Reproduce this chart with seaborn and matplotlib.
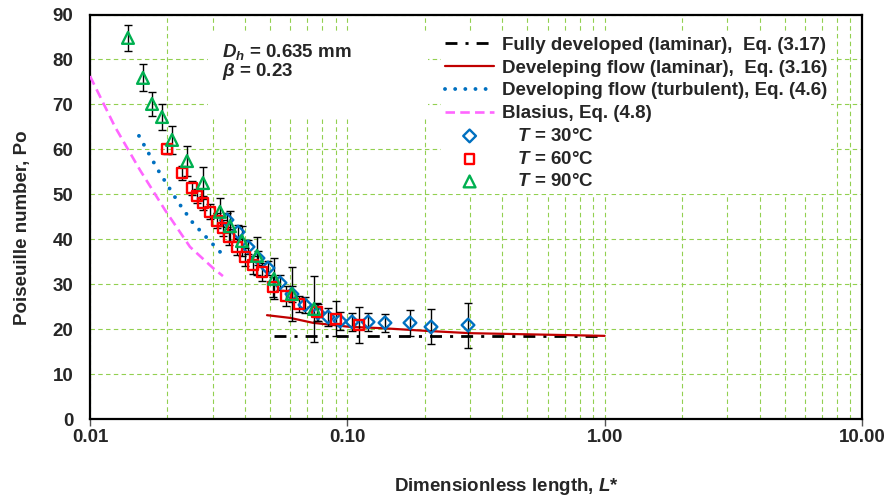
import numpy as np
import pandas as pd
import matplotlib
matplotlib.use("Agg")
import matplotlib.pyplot as plt
from matplotlib.ticker import FixedLocator, LogLocator, NullFormatter
from matplotlib.patches import Rectangle
import seaborn as sns

# ---------------- data ----------------
# Fully developed (laminar)
L_fd = [0.052, 1.0]
Po_fd = [18.4, 18.4]
# Developing flow (laminar)
L_lam = [0.04875, 0.05989, 0.07357, 0.1024, 0.1376, 0.2040, 0.2999, 1.0]
Po_lam = [23.1, 22.5, 21.4, 20.5, 20.2, 19.6, 19.1, 18.5]
# Developing flow (turbulent)
L_turb = [0.01550, 0.01838, 0.02198, 0.02514, 0.02901, 0.03286]
Po_turb = [63.0, 55.4, 48.3, 43.6, 39.8, 36.5]
# Blasius
L_bla = [0.01, 0.01251, 0.01564, 0.01957, 0.02447, 0.03006, 0.03286]
Po_bla = [76.3, 65.0, 55.4, 46.5, 38.3, 33.6, 31.8]

# T = 30 C
L_t30 = [0.03407, 0.03761, 0.04113, 0.04497, 0.04917, 0.05475, 0.06095, 0.06849,
         0.07695, 0.08414, 0.09368, 0.1043, 0.1204, 0.1401, 0.1752, 0.2115, 0.2945]
Po_t30 = [44.3, 41.6, 38.3, 35.8, 33.6, 30.3, 27.8, 25.4, 23.6, 22.7, 21.8, 21.6,
          21.6, 21.4, 21.4, 20.5, 20.9]
err_t30 = [1.5, 1.5, 1.5, 1.5, 1.6, 1.7, 1.8, 1.8, 1.9, 2.0, 2.0, 2.0, 2.0, 2.0,
           2.9, 3.9, 5.0]
# T = 60 C
L_t60 = [0.01992, 0.02278, 0.02492, 0.02606, 0.02750, 0.02927, 0.03115, 0.03286,
         0.03469, 0.03727, 0.04005, 0.04302, 0.04661, 0.05144, 0.05779, 0.06490,
         0.07623, 0.09039, 0.1110]
Po_t60 = [60.1, 54.7, 51.4, 49.6, 48.1, 46.1, 44.1, 42.5, 40.5, 38.3, 36.0, 34.3,
          32.7, 29.4, 27.4, 25.6, 23.8, 22.3, 20.9]
err_t60 = [1.2, 1.6, 1.6, 1.6, 1.6, 1.7, 1.7, 1.8, 1.8, 1.9, 2.0, 2.0, 2.1, 2.2,
           2.3, 1.7, 2.0, 3.9, 4.0]
# T = 90 C
L_t90 = [0.01405, 0.01607, 0.01742, 0.01905, 0.02084, 0.02383, 0.02750, 0.03200,
         0.03500, 0.03896, 0.04457, 0.05190, 0.06095, 0.07425]
Po_t90 = [84.8, 75.9, 70.1, 67.2, 62.1, 57.4, 52.5, 46.1, 42.9, 39.6, 36.3, 31.2,
          27.8, 24.5]
err_t90 = [2.9, 3.0, 2.7, 3.0, 3.2, 3.3, 3.5, 3.1, 3.3, 3.3, 4.2, 4.6, 6.0, 7.4]

x_ticks = [0.01, 0.1, 1.0, 10.0]
x_ticklabels = ["0.01", "0.10", "1.00", "10.00"]
y_ticks = [0, 10, 20, 30, 40, 50, 60, 70, 80, 90]

# ---------------- style ----------------
sns.set_style("white")
plt.rcParams["font.family"] = ["Liberation Sans", "DejaVu Sans"]
plt.rcParams["font.weight"] = "bold"
plt.rcParams["mathtext.fontset"] = "custom"
plt.rcParams["mathtext.it"] = "Liberation Sans:italic:bold"
plt.rcParams["mathtext.rm"] = "Liberation Sans:bold"
plt.rcParams["mathtext.bf"] = "Liberation Sans:bold"
FS = 13.5

fig = plt.figure(figsize=(8.9, 4.99), dpi=100)
ax = fig.add_axes([0.1011, 0.1603, 0.8674, 0.8106])

grid_col = "#92D050"

# curves
sns.lineplot(x=L_fd, y=Po_fd, ax=ax, color="black", lw=2.0,
             linestyle=(0, (4.3, 2.9, 1.1, 2.9)),
             label="Fully developed (laminar),  Eq. (3.17)", zorder=3)
sns.lineplot(x=L_lam, y=Po_lam, ax=ax, color="#C00000", lw=1.6,
             label="Develeping flow (laminar),  Eq. (3.16)", zorder=3)
sns.lineplot(x=L_turb, y=Po_turb, ax=ax, color="#0070C0", lw=2.8,
             linestyle=(0, (0.01, 2.6)), dash_capstyle="round",
             label="Developing flow (turbulent), Eq. (4.6)", zorder=3)
sns.lineplot(x=L_bla, y=Po_bla, ax=ax, color="#FF66FF", lw=1.9,
             linestyle=(0, (3.6, 2.0)),
             label="Blasius, Eq. (4.8)", zorder=3)

# error bars
for L, P, E in [(L_t30, Po_t30, err_t30), (L_t60, Po_t60, err_t60), (L_t90, Po_t90, err_t90)]:
    ax.errorbar(L, P, yerr=E, fmt="none", ecolor="black", elinewidth=1.0,
                capsize=3, capthick=1.0, zorder=3.5)

# markers
sns.scatterplot(x=L_t30, y=Po_t30, ax=ax, marker="D", s=42, color="#0070C0",
                facecolor="none", edgecolor="#0070C0", linewidth=1.7,
                label="   $T$ = 30\u00b0C", zorder=4)
sns.scatterplot(x=L_t60, y=Po_t60, ax=ax, marker="s", s=50, color="#FF0000",
                facecolor="none", edgecolor="#FF0000", linewidth=1.7,
                label="   $T$ = 60\u00b0C", zorder=4.2)
sns.scatterplot(x=L_t90, y=Po_t90, ax=ax, marker="^", s=72, color="#00B050",
                facecolor="none", edgecolor="#00B050", linewidth=1.7,
                label="   $T$ = 90\u00b0C", zorder=4.4)

# axes
ax.set_xscale("log")
ax.set_xlim(0.01, 10)
ax.set_ylim(0, 90)
ax.xaxis.set_major_locator(FixedLocator(x_ticks))
ax.set_xticklabels(x_ticklabels)
ax.xaxis.set_minor_locator(LogLocator(base=10, subs=range(2, 10)))
ax.xaxis.set_minor_formatter(NullFormatter())
ax.set_yticks(y_ticks)
ax.tick_params(axis="x", which="major", direction="out", length=5, width=1,
               color="#555555", labelsize=FS, pad=2, bottom=True)
ax.tick_params(axis="x", which="minor", length=0)
ax.tick_params(axis="y", which="major", length=0, labelsize=FS, pad=12, left=True)
for lab in ax.get_xticklabels() + ax.get_yticklabels():
    lab.set_fontweight("bold")

ax.set_axisbelow(True)
ax.grid(axis="x", which="both", color=grid_col, linestyle=(0, (4, 3)), lw=0.8)
ax.grid(axis="y", which="major", color=grid_col, linestyle=(0, (4, 3)), lw=0.8)
for s in ax.spines.values():
    s.set_color("black")
    s.set_linewidth(1.6)

ax.set_xlabel("Dimensionless length, $L$*", fontsize=FS, fontweight="bold", va="center")
ax.set_ylabel("Poiseuille number, Po", fontsize=FS, fontweight="bold", va="center")
ax.xaxis.set_label_coords(0.539, -0.168)
ax.yaxis.set_label_coords(-0.088, 0.472)

# annotation box
ax.add_patch(Rectangle((0.1528, 0.7466), 0.285, 0.2077, transform=ax.transAxes,
                       facecolor="white", edgecolor="none", zorder=1))
ax.text(0.171, 0.907, "$D_h$ = 0.635 mm", transform=ax.transAxes, fontsize=FS,
        fontweight="bold", va="center", ha="left", zorder=6)
ax.text(0.171, 0.858, r"$\beta$ = 0.23", transform=ax.transAxes, fontsize=FS,
        fontweight="bold", va="center", ha="left", zorder=6)

# legend
handles, labels = ax.get_legend_handles_labels()
leg = ax.legend(handles, labels, loc="upper left", bbox_to_anchor=(0.4955, 0.9339),
                bbox_transform=fig.transFigure, frameon=True, facecolor="white",
                edgecolor="none", framealpha=1, fancybox=False, borderpad=0.2,
                borderaxespad=0, handlelength=2.65, handletextpad=0.4,
                labelspacing=0.30, prop={"weight": "bold", "size": FS})
leg.set_zorder(5)

fig.savefig("out.png", dpi=100)
